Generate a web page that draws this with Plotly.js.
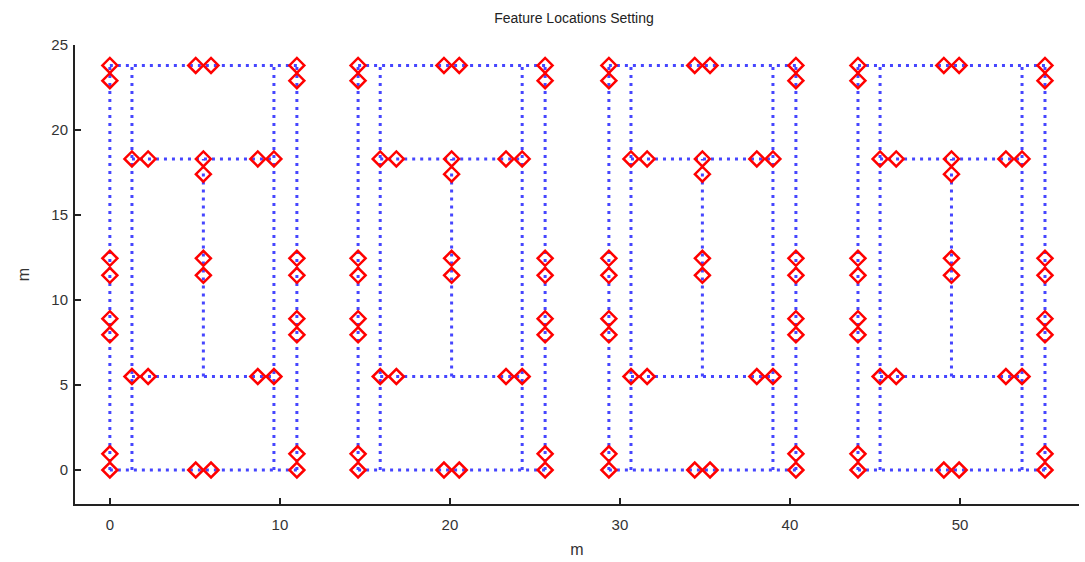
<!DOCTYPE html>
<html>
<head>
<meta charset="utf-8">
<script src="https://cdn.plot.ly/plotly-3.0.1.min.js"></script>
<style>
html,body{margin:0;padding:0;background:#fff;}
#chart{width:1085px;height:562px;}
</style>
</head>
<body>
<div id="chart"></div>
<script>
// x offset of each of the four identical blocks (m)
var blockOffsets = [0, 14.6, 29.35, 44.0];

// path network inside one block (local coordinates, null separates segments)
var pathX = [0, 0, null, 11, 11, null, 0, 11, null, 0, 11, null,
             1.3, 1.3, null, 9.65, 9.65, null, 1.3, 9.65, null, 1.3, 9.65, null, 5.5, 5.5];
var pathY = [0, 23.8, null, 0, 23.8, null, 23.8, 23.8, null, 0, 0, null,
             0, 23.8, null, 0, 23.8, null, 18.3, 18.3, null, 5.5, 5.5, null, 5.5, 18.3];

// feature locations inside one block (local coordinates)
var featX = [0, 0, 5.05, 5.95, 11, 11,
             1.3, 2.25, 5.5, 5.5, 8.7, 9.65,
             0, 0, 5.5, 5.5, 11, 11,
             0, 0, 11, 11,
             1.3, 2.25, 8.7, 9.65,
             0, 0, 5.05, 5.95, 11, 11];
var featY = [23.8, 22.9, 23.8, 23.8, 23.8, 22.9,
             18.3, 18.3, 18.3, 17.4, 18.3, 18.3,
             12.45, 11.45, 12.45, 11.45, 12.45, 11.45,
             8.9, 7.95, 8.9, 7.95,
             5.5, 5.5, 5.5, 5.5,
             0.95, 0, 0, 0, 0.95, 0];

var xTicks = [0, 10, 20, 30, 40, 50];
var yTicks = [0, 5, 10, 15, 20, 25];

var lx = [], ly = [], fx = [], fy = [];
blockOffsets.forEach(function (off) {
  pathX.forEach(function (v, i) {
    lx.push(v === null ? null : v + off);
    ly.push(pathY[i]);
  });
  lx.push(null); ly.push(null);
  featX.forEach(function (v, i) {
    fx.push(v + off);
    fy.push(featY[i]);
  });
});

var traces = [
  {
    x: lx, y: ly, type: 'scatter', mode: 'lines',
    line: {color: 'rgb(70,70,255)', width: 3, dash: '3px,5px'},
    connectgaps: false, hoverinfo: 'skip', showlegend: false
  },
  {
    x: fx, y: fy, type: 'scatter', mode: 'markers',
    marker: {symbol: 'diamond-open', size: 11.5, color: 'rgb(255,0,0)', line: {width: 2.5, color: 'rgb(255,0,0)'}},
    showlegend: false
  }
];

var font = {family: 'Liberation Sans, Arial, sans-serif', color: '#222'};

var layout = {
  width: 1085, height: 562,
  margin: {l: 75, r: 6, t: 45, b: 58, pad: 0},
  paper_bgcolor: '#ffffff', plot_bgcolor: '#ffffff',
  showlegend: false,
  title: {
    text: 'Feature Locations Setting',
    font: {family: font.family, size: 14, color: '#222'},
    x: 0.497, xref: 'paper', xanchor: 'center',
    y: 1 - 18 / 562, yref: 'container', yanchor: 'middle'
  },
  xaxis: {
    range: [-2.05, 57], tickvals: xTicks, ticktext: xTicks.map(String),
    showgrid: false, zeroline: false, showline: true, linecolor: '#222', linewidth: 2,
    ticks: 'inside', ticklen: 6, tickwidth: 1.5, tickcolor: '#222',
    ticklabelstandoff: 6,
    tickfont: {family: font.family, size: 15, color: '#333'},
    title: {text: 'm', font: {family: font.family, size: 16, color: '#333'}, standoff: 12}
  },
  yaxis: {
    range: [-2, 25], tickvals: yTicks, ticktext: yTicks.map(String),
    showgrid: false, zeroline: false, showline: true, linecolor: '#222', linewidth: 2,
    ticks: 'inside', ticklen: 6, tickwidth: 1.5, tickcolor: '#222',
    ticklabelstandoff: 2,
    tickfont: {family: font.family, size: 15, color: '#333'},
    title: {text: 'm', font: {family: font.family, size: 16, color: '#333'}, standoff: 18}
  }
};

Plotly.newPlot('chart', traces, layout, {displayModeBar: false, staticPlot: true});
</script>
</body>
</html>
